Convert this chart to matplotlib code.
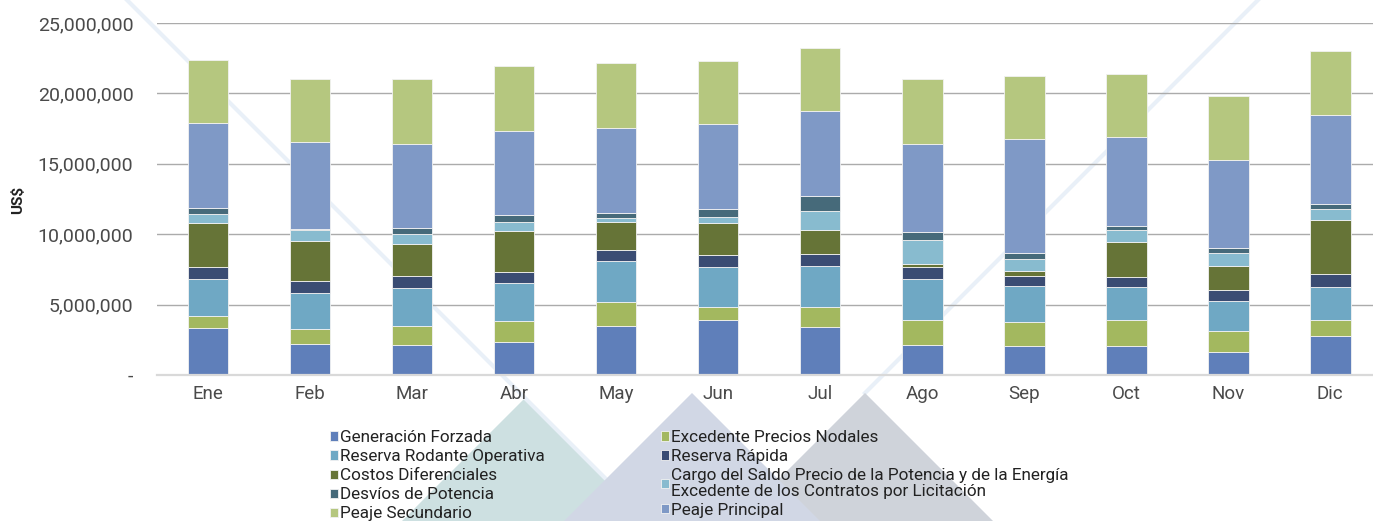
import numpy as np
import matplotlib
matplotlib.use("Agg")
import matplotlib.pyplot as plt
from matplotlib.patches import Polygon
from matplotlib.lines import Line2D
from matplotlib.ticker import FuncFormatter

months = ["Ene", "Feb", "Mar", "Abr", "May", "Jun", "Jul", "Ago", "Sep", "Oct", "Nov", "Dic"]

# values in millions of US$
generacion_forzada = [3.37, 2.23, 2.16, 2.35, 3.51, 3.89, 3.44, 2.16, 2.09, 2.09, 1.61, 2.80]
excedente_nodales = [0.81, 1.02, 1.30, 1.47, 1.66, 0.93, 1.38, 1.75, 1.66, 1.82, 1.49, 1.11]
reserva_rodante = [2.65, 2.59, 2.73, 2.73, 2.94, 2.85, 2.94, 2.92, 2.54, 2.37, 2.18, 2.37]
reserva_rapida = [0.81, 0.81, 0.81, 0.80, 0.74, 0.83, 0.81, 0.81, 0.71, 0.71, 0.74, 0.92]
costos_diferenciales = [3.13, 2.85, 2.30, 2.85, 1.99, 2.28, 1.73, 0.26, 0.36, 2.49, 1.73, 3.84]
cargo_saldo = [0.66, 0.83, 0.74, 0.67, 0.31, 0.47, 1.38, 1.71, 0.85, 0.83, 0.95, 0.74]
desvios_potencia = [0.40, 0.07, 0.38, 0.47, 0.33, 0.52, 1.02, 0.57, 0.43, 0.24, 0.31, 0.33]
peaje_principal = [6.05, 6.12, 6.02, 6.00, 6.05, 6.03, 6.05, 6.26, 8.09, 6.33, 6.24, 6.33]
peaje_secundario = [4.51, 4.51, 4.58, 4.58, 4.61, 4.51, 4.46, 4.58, 4.48, 4.51, 4.55, 4.58]

series = [
    ("Generación Forzada", generacion_forzada, "#5F7FBA"),
    ("Excedente Precios Nodales", excedente_nodales, "#A3B85F"),
    ("Reserva Rodante Operativa", reserva_rodante, "#6FA8C4"),
    ("Reserva Rápida", reserva_rapida, "#3A4C73"),
    ("Costos Diferenciales", costos_diferenciales, "#667437"),
    ("Cargo del Saldo Precio de la Potencia y de la Energía\nExcedente de los Contratos por Licitación",
     cargo_saldo, "#88BBCF"),
    ("Desvíos de Potencia", desvios_potencia, "#466A7A"),
    ("Peaje Principal", peaje_principal, "#7F99C6"),
    ("Peaje Secundario", peaje_secundario, "#B5C77F"),
]

W, H = 1373, 521
fig = plt.figure(figsize=(W / 100, H / 100), dpi=100)


def px(x, y):
    return (x / W, 1 - y / H)


# background decoration
fig.add_artist(Polygon([px(*p) for p in [(402, 521), (525, 398), (648, 521)]], closed=True,
                       transform=fig.transFigure, facecolor="#CDE0E1", edgecolor="none", zorder=-5))
fig.add_artist(Line2D([px(127, 0)[0], px(648, 521)[0]], [px(127, 0)[1], px(648, 521)[1]],
                      transform=fig.transFigure, color="#E9F0F8", lw=3, zorder=-4))
fig.add_artist(Line2D([px(1258, 0)[0], px(865, 393)[0]], [px(1258, 0)[1], px(865, 393)[1]],
                      transform=fig.transFigure, color="#E9F0F8", lw=3, zorder=-4))
fig.add_artist(Polygon([px(*p) for p in [(737, 521), (865, 393), (993, 521)]], closed=True,
                       transform=fig.transFigure, facecolor="#CFD3DA", edgecolor="none", zorder=-3))
fig.add_artist(Polygon([px(*p) for p in [(564, 521), (692, 393), (820, 521)]], closed=True,
                       transform=fig.transFigure, facecolor="#D1D7E5", edgecolor="none", zorder=-2))

ax = fig.add_axes([157 / W, 1 - 375 / H, (W - 157) / W, (375 - 23) / H])
ax.patch.set_visible(False)

x = np.arange(len(months))
bottom = np.zeros(len(months))
handles = {}
for name, vals, col in series:
    v = np.array(vals) * 1e6
    b = ax.bar(x, v, 0.4, bottom=bottom, color=col, edgecolor="#F2F2F2", linewidth=0.6,
               label=name, zorder=3)
    handles[name] = b
    bottom += v

ax.set_xlim(-0.5, 11.42)
ax.set_ylim(0, 25e6)
ax.set_yticks(np.arange(0, 25e6 + 1, 5e6))
ax.yaxis.set_major_formatter(FuncFormatter(lambda v, p: "-" if v == 0 else f"{v:,.0f}"))
ax.set_xticks(x)
ax.set_xticklabels(months)
ax.grid(axis="y", color="#ABABAB", lw=1.0, zorder=0)
ax.set_axisbelow(True)
for s in ["top", "right", "left"]:
    ax.spines[s].set_visible(False)
ax.spines["bottom"].set_color("#D9D9D9")
ax.spines["bottom"].set_linewidth(1.6)
ax.spines["bottom"].set_zorder(4)
ax.tick_params(axis="y", length=0, pad=17, labelsize=14, labelcolor="#4A4A4A")
ax.tick_params(axis="x", length=0, pad=7, labelsize=13.5, labelcolor="#4A4A4A")
for lab in ax.get_xticklabels() + ax.get_yticklabels():
    lab.set_family(["Roboto", "DejaVu Sans"])

fig.text(18 / W, 1 - 200 / H, "US$", rotation=90, ha="center", va="center", fontsize=11,
         family=["Roboto", "DejaVu Sans"], fontweight="bold", color="#222222")

order = [0, 2, 4, 6, 8, 1, 3, 5, 7]
hs = [handles[series[i][0]] for i in order]
ls = [series[i][0] for i in order]
leg = fig.legend(hs, ls, loc="upper left", bbox_to_anchor=px(330, 430), ncol=2, frameon=False,
                 borderpad=0, borderaxespad=0, handlelength=0.45, handleheight=0.45,
                 handletextpad=0.15, columnspacing=6.8, labelspacing=0.24,
                 prop={"family": ["Roboto", "DejaVu Sans"], "size": 12.3})
for t in leg.get_texts():
    t.set_color("#222222")
    t.set_linespacing(1.05)

plt.savefig("out.png", dpi=100)
